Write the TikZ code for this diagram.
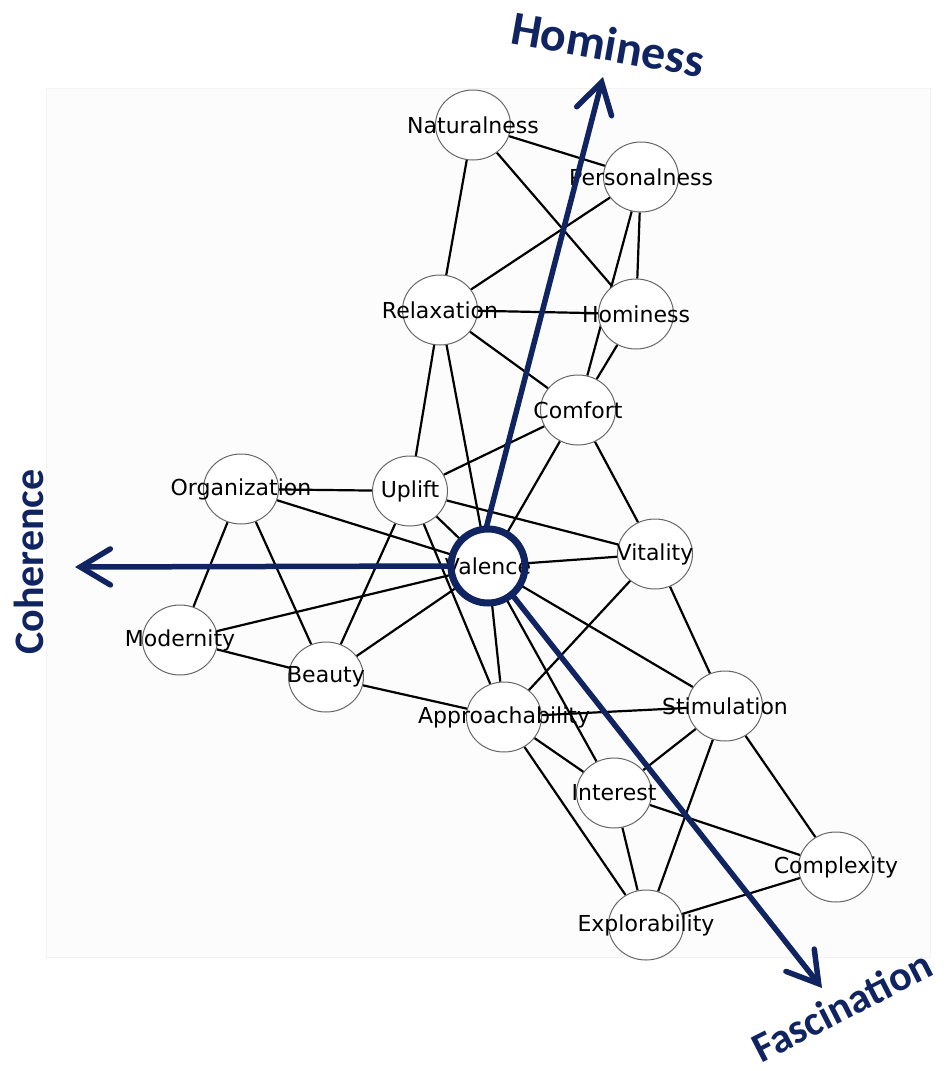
\documentclass[tikz,border=0pt]{standalone}
\usepackage{fontspec}
\setmainfont{DejaVu Sans}
\newfontfamily\axisfont{Carlito}
\usetikzlibrary{shapes.geometric, arrows.meta, backgrounds}
\definecolor{navy}{RGB}{16,36,98}

\begin{document}
\begin{tikzpicture}[x=1pt, y=-1pt,
    factor/.style={ellipse, draw=black!60, line width=1pt, fill=white, minimum width=75pt, minimum height=70pt, inner sep=0pt, font=\fontsize{22}{25}\selectfont},
    link/.style={line width=2.2pt},
    axis/.style={navy, line width=5.5pt, line cap=round, -{Straight Barb[length=30pt, width=36pt, line cap=round]}},
    axislabel/.style={navy, inner sep=0pt, font=\axisfont\bfseries\fontsize{42}{46}\selectfont}]
    \useasboundingbox (0,0) rectangle (948,1071);

    % Factor nodes
    \node[factor] (nat) at (473,125) {\makebox[0pt]{Naturalness}};
    \node[factor] (per) at (641,177) {\makebox[0pt]{Personalness}};
    \node[factor] (rel) at (440,310) {\makebox[0pt]{Relaxation}};
    \node[factor] (hom) at (636,314) {\makebox[0pt]{Hominess}};
    \node[factor] (com) at (578,410) {\makebox[0pt]{Comfort}};
    \node[factor] (org) at (241,489) {\makebox[0pt]{Organization}};
    \node[factor] (upl) at (410,491) {\makebox[0pt]{Uplift}};
    \node[factor, circle, draw=none, minimum size=74pt] (val) at (488,566) {\makebox[0pt]{Valence}};
    \node[factor] (vit) at (655,554) {\makebox[0pt]{Vitality}};
    \node[factor] (mod) at (180,640) {\makebox[0pt]{Modernity}};
    \node[factor] (bea) at (326,677) {\makebox[0pt]{Beauty}};
    \node[factor] (apr) at (504,717) {\makebox[0pt]{Approachability}};
    \node[factor] (sti) at (725,706) {\makebox[0pt]{Stimulation}};
    \node[factor] (int) at (614,793) {\makebox[0pt]{Interest}};
    \node[factor] (cpx) at (836,867) {\makebox[0pt]{Complexity}};
    \node[factor] (exl) at (646,925) {\makebox[0pt]{Explorability}};
    \draw[navy, line width=7pt] (val.center) circle[radius=37pt];

    % Links between factors, behind the nodes
    \begin{scope}[on background layer]
        \draw[draw=black!5, fill=black!1] (46,88) rectangle (930,957);
        \foreach \a/\b in {nat/per, nat/rel, nat/hom, per/rel, per/hom, per/com, rel/hom, rel/com, rel/upl, rel/val,
                hom/com, com/upl, com/val, com/vit, org/upl, org/val, org/mod, org/bea, upl/bea, upl/val,
                upl/vit, upl/apr, mod/val, mod/bea, bea/val, bea/apr, val/vit, val/apr, val/int, val/sti,
                vit/apr, vit/sti, apr/sti, apr/int, apr/exl, sti/int, sti/exl, sti/cpx, int/cpx, int/exl, exl/cpx}
            \draw[link] (\a) -- (\b);
    \end{scope}

    % Axes out of Valence
    \coordinate (homtip) at (603,77);
    \coordinate (cohtip) at (75,567);
    \coordinate (fastip) at (822,988);
    \draw[axis] (val.93) -- (homtip);
    \draw[axis] (val.180) -- (cohtip);
    \draw[axis] (val.-50) -- (fastip);
    \node[axislabel, rotate=-10, font=\axisfont\bfseries\fontsize{48}{52}\selectfont] (homlab) at (608,44) {Hominess};
    \node[axislabel, rotate=90] (cohlab) at (29,562) {Coherence};
    \node[axislabel, rotate=27] (faslab) at (842,1006) {Fascination};
\end{tikzpicture}
\end{document}
